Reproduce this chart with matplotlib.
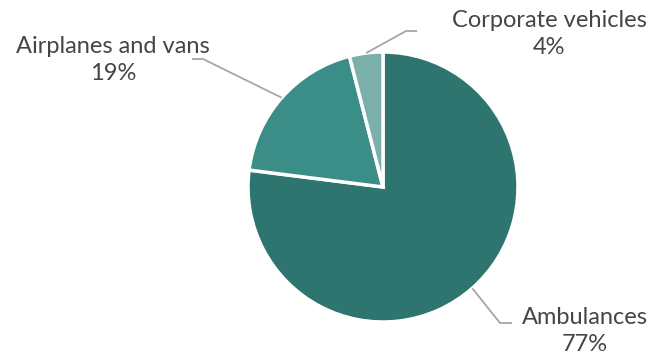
import numpy as np
import matplotlib
matplotlib.use('Agg')
from matplotlib import pyplot as plt

labels = ['Ambulances', 'Airplanes and vans', 'Corporate vehicles']
shares = [77, 19, 4]
colors = ['#2e7570', '#3b8d87', '#7ab0a9']

# label layout in pixel coords (x, y from top): elbow, end of line, text centre
elbows = [(500, 323), (203, 59), (406, 31)]
line_ends = [(512, 323), (192, 59), (417, 31)]
text_pos = [(585, 331), (113, 60), (549, 34)]

W, H = 655, 356
fig = plt.figure(figsize=(W / 100, H / 100), dpi=100)
ax = fig.add_axes([0, 0, 1, 1])

cx, cy, r = 383, H - 187, 135
wedges, _ = ax.pie(shares, colors=colors, startangle=90, counterclock=False,
                   center=(cx, cy), radius=r, frame=True,
                   wedgeprops=dict(edgecolor='white', linewidth=2.5))
ax.set_xlim(0, W)
ax.set_ylim(0, H)
ax.set_aspect('equal')
ax.axis('off')

for w, lab, val, el, le, tp in zip(wedges, labels, shares, elbows, line_ends, text_pos):
    ang = np.deg2rad((w.theta1 + w.theta2) / 2)
    x0 = cx + r * np.cos(ang)
    y0 = cy + r * np.sin(ang)
    ax.plot([x0, el[0], le[0]], [y0, H - el[1], H - le[1]],
            color='#a6a6a6', linewidth=1.3, solid_capstyle='butt')
    ax.text(tp[0], H - tp[1], f'{lab}\n{val}%', ha='center', va='center',
            fontsize=17, color='#454545', family='Lato',
            linespacing=1.3)

fig.savefig('out.png', dpi=100)
